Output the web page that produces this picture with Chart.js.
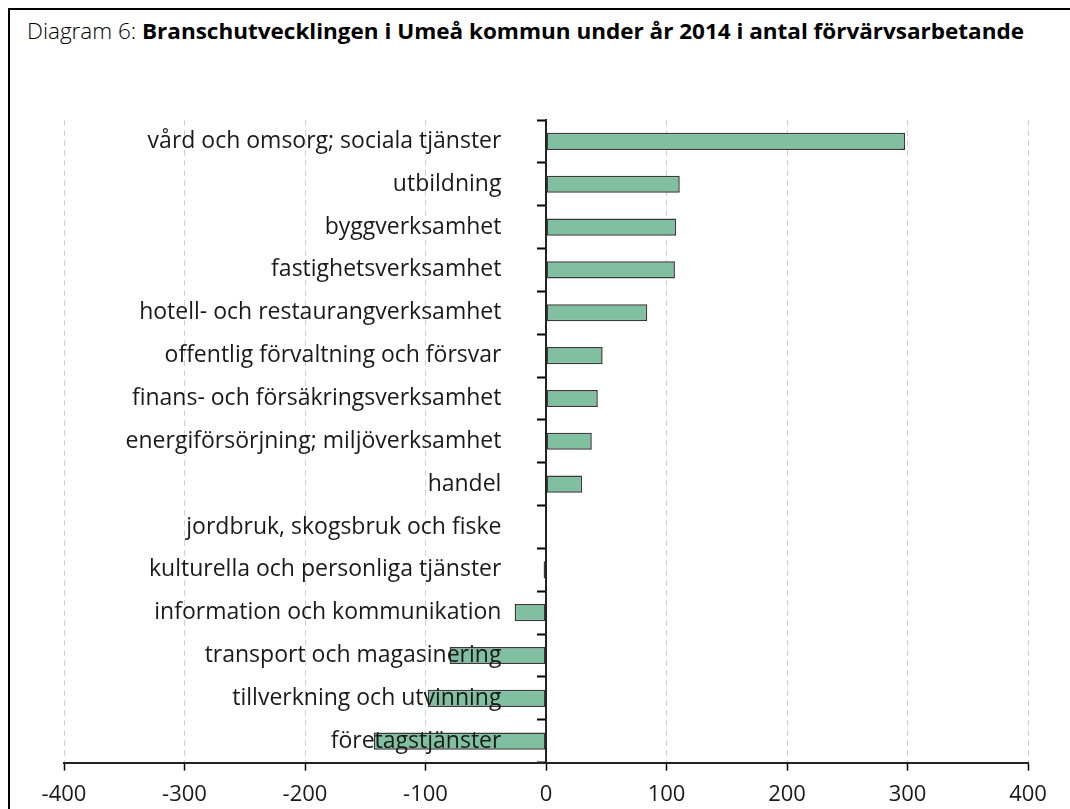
<!DOCTYPE html>
<html lang="sv">
<head>
<meta charset="utf-8">
<script src="https://cdn.jsdelivr.net/npm/chart.js@4"></script>
<style>
    html, body { margin: 0; padding: 0; background: #fff; }
    body { width: 1070px; height: 809px; position: relative; overflow: hidden; }
    #frame {
        position: absolute; left: 8px; top: 8px; width: 1100px; height: 850px;
        border-left: 2px solid #000; border-top: 2px solid #000;
    }
    #title {
        position: absolute; left: 27px; top: 15px; white-space: nowrap;
        font-family: 'Open Sans', sans-serif; font-size: 22px; color: #000;
        transform-origin: left top;
    }
    #title .lead { font-weight: 300; }
    #title b { font-weight: 700; }
    /* canvas a bit taller than the page so the x axis lands where the reference has it */
    #chartBox { position: absolute; left: 0; top: 0; width: 1070px; height: 819px; }
</style>
</head>
<body>
<div id="frame"></div>
<div id="title"><span class="lead">Diagram 6: </span><b>Branschutvecklingen i Umeå kommun under år 2014 i antal förvärvsarbetande</b></div>
<div id="chartBox"><canvas id="branschChart"></canvas></div>

<script>
// Branscher, uppifrån och ned
const branscher = [
    'vård och omsorg; sociala tjänster',
    'utbildning',
    'byggverksamhet',
    'fastighetsverksamhet',
    'hotell- och restaurangverksamhet',
    'offentlig förvaltning och försvar',
    'finans- och försäkringsverksamhet',
    'energiförsörjning; miljöverksamhet',
    'handel',
    'jordbruk, skogsbruk och fiske',
    'kulturella och personliga tjänster',
    'information och kommunikation',
    'transport och magasinering',
    'tillverkning och utvinning',
    'företagstjänster'
];

// Förändring i antal förvärvsarbetande 2014
const forandring = [298, 111, 108, 107, 84, 47, 43, 38, 30, 0, -2, -26, -80, -98, -143];

const xTicks = [-400, -300, -200, -100, 0, 100, 200, 300, 400];

// fit the title to the reference width
const title = document.getElementById('title');
const tw = title.getBoundingClientRect().width;
title.style.transform = 'scaleX(' + (997 / tw) + ')';

const ctx = document.getElementById('branschChart');

new Chart(ctx, {
    type: 'bar',
    data: {
        labels: branscher,
        datasets: [{
            label: 'Förändring',
            data: forandring,
            backgroundColor: '#80bf9f',
            borderColor: '#3a3a3a',
            borderWidth: 1.5,
            borderSkipped: false,
            barPercentage: 0.4,
            categoryPercentage: 1.0
        }]
    },
    options: {
        indexAxis: 'y',
        responsive: true,
        maintainAspectRatio: false,
        animation: false,
        layout: { padding: { top: 120, left: 64, right: 42, bottom: 0 } },
        plugins: {
            legend: { display: false },
            tooltip: { enabled: false }
        },
        scales: {
            x: {
                type: 'linear',
                min: xTicks[0],
                max: xTicks[xTicks.length - 1],
                afterBuildTicks: scale => { scale.ticks = xTicks.map(v => ({ value: v })); },
                grid: {
                    color: '#d0d0d0',
                    lineWidth: 1,
                    tickColor: '#000',
                    tickBorderDash: [],
                    tickLength: 8,
                    tickWidth: 1.5
                },
                border: { display: true, color: '#222', width: 2, dash: [6, 4] },
                ticks: {
                    padding: 11,
                    color: '#1a1a1a',
                    font: { family: 'Open Sans', size: 22 },
                    maxRotation: 0
                }
            },
            y: {
                type: 'category',
                position: { x: 0 },
                offset: true,
                grid: {
                    offset: true,
                    drawOnChartArea: false,
                    drawTicks: true,
                    tickLength: 8,
                    tickColor: '#000',
                    tickWidth: 2
                },
                border: { display: true, color: '#222', width: 2 },
                ticks: { display: false }
            },
            // label column, placed a little to the left of the zero line, drawn above the bars
            yLabels: {
                type: 'category',
                axis: 'y',
                position: { x: -37 },
                offset: true,
                grid: { display: false, drawTicks: false },
                border: { display: false },
                ticks: {
                    z: 1,
                    padding: 0,
                    color: '#1a1a1a',
                    font: { family: 'Open Sans', size: 23 }
                }
            }
        }
    }
});
</script>
</body>
</html>
